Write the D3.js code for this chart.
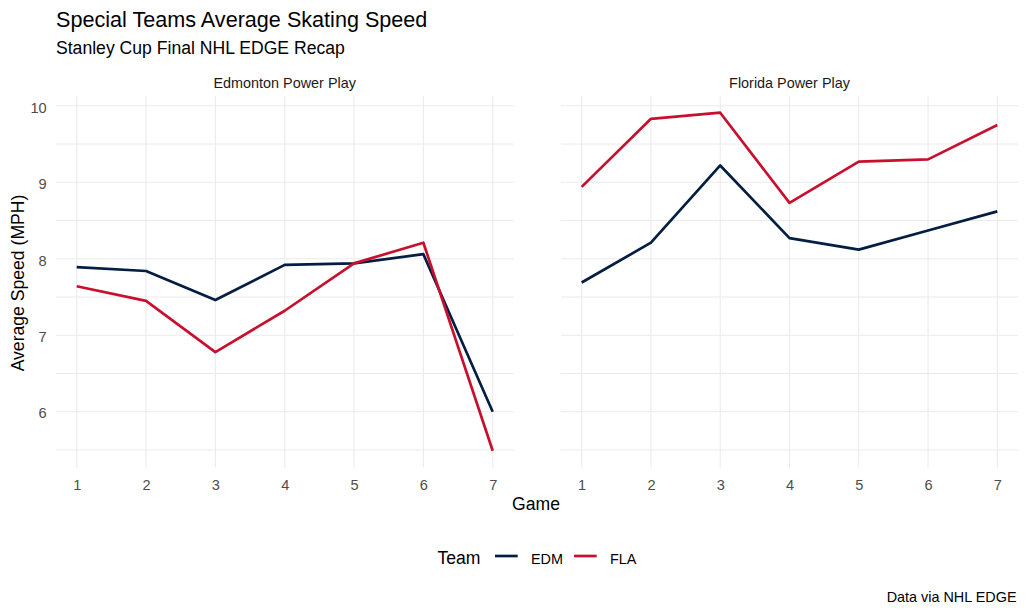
<!DOCTYPE html>
<html><head><meta charset="utf-8">
<script src="https://cdn.jsdelivr.net/npm/d3@7"></script>
<style>body{margin:0;background:#fff}svg{display:block;font-family:"Liberation Sans",Arial,sans-serif}</style>
</head><body><svg id="c" width="1027" height="613"></svg>
<script>
const games = [1,2,3,4,5,6,7];
const panels = ["Edmonton Power Play","Florida Power Play"];
const teams = ["EDM","FLA"];
const teamColors = ["#041E42","#C8102E"];
const edmPP_EDM = [7.89,7.84,7.46,7.92,7.94,8.06,6.00];
const edmPP_FLA = [7.64,7.45,6.78,7.32,7.94,8.21,5.49];
const flaPP_EDM = [7.69,8.21,9.22,8.27,8.12,8.37,8.62];
const flaPP_FLA = [8.94,9.83,9.91,8.73,9.27,9.30,9.75];
const yTicks = [6,7,8,9,10];
const yMinor = [5.5,6.5,7.5,8.5,9.5];
const panelData = [[edmPP_EDM,edmPP_FLA],[flaPP_EDM,flaPP_FLA]];

const svg = d3.select("#c");
const pTop = 95.8, pBottom = 467.6;
const panelX = [[55.9,513.5],[560.9,1018.1]];
const all = panelData.flat(2);
const ymin = d3.min(all), ymax = d3.max(all), yr = ymax - ymin;
const y = d3.scaleLinear().domain([ymin - 0.05*yr, ymax + 0.05*yr]).range([pBottom, pTop]);
const FF = "Liberation Sans, Arial, sans-serif";

svg.append("text").attr("x",56).attr("y",27).attr("font-size",21.6).attr("fill","#000").text("Special Teams Average Skating Speed");
svg.append("text").attr("x",56).attr("y",54).attr("font-size",17.6).attr("fill","#000").text("Stanley Cup Final NHL EDGE Recap");

panelData.forEach((series,pi)=>{
  const [x0,x1] = panelX[pi];
  const x = d3.scaleLinear().domain([1 - 0.3, 7 + 0.3]).range([x0,x1]);
  const g = svg.append("g");
  yMinor.forEach(v=>g.append("line").attr("x1",x0).attr("x2",x1).attr("y1",y(v)).attr("y2",y(v)).attr("stroke","#EBEBEB").attr("stroke-width",1));
  yTicks.forEach(v=>g.append("line").attr("x1",x0).attr("x2",x1).attr("y1",y(v)).attr("y2",y(v)).attr("stroke","#EBEBEB").attr("stroke-width",1.1));
  games.forEach(v=>g.append("line").attr("x1",x(v)).attr("x2",x(v)).attr("y1",pTop).attr("y2",pBottom).attr("stroke","#EBEBEB").attr("stroke-width",1.1));
  const xa = d3.axisBottom(x).tickValues(games).tickSize(0).tickPadding(11.7).tickFormat(d3.format("d"));
  const ax = g.append("g").attr("transform",`translate(0,${pBottom})`).call(xa);
  ax.select(".domain").remove();
  ax.selectAll("text").attr("font-size",14.6).attr("fill","#4D4D4D").attr("font-family",FF);
  if(pi===0){
    const ya = d3.axisLeft(y).tickValues(yTicks).tickSize(0).tickPadding(9.2).tickFormat(d3.format("d"));
    const ay = g.append("g").attr("transform",`translate(${x0},0)`).call(ya);
    ay.select(".domain").remove();
    ay.selectAll("text").attr("font-size",14.6).attr("fill","#4D4D4D").attr("font-family",FF).attr("dy","0.43em");
  }
  g.append("text").attr("x",(x0+x1)/2).attr("y",88).attr("text-anchor","middle").attr("font-size",14.4).attr("fill","#1A1A1A").text(panels[pi]);
  const line = d3.line().x((d,i)=>x(games[i])).y(d=>y(d));
  series.forEach((s,si)=>{
    g.append("path").attr("d",line(s)).attr("fill","none").attr("stroke",teamColors[si]).attr("stroke-width",2.7).attr("stroke-linejoin","round");
  });
});

svg.append("text").attr("transform","translate(24,283) rotate(-90)").attr("text-anchor","middle").attr("font-size",17.6).attr("fill","#000").text("Average Speed (MPH)");
svg.append("text").attr("x",536).attr("y",510).attr("text-anchor","middle").attr("font-size",17.6).attr("fill","#000").text("Game");

const lg = svg.append("g");
lg.append("text").attr("x",437.5).attr("y",564).attr("font-size",17.6).attr("fill","#000").text("Team");
const keyX = [495,574];
teams.forEach((t,i)=>{
  lg.append("line").attr("x1",keyX[i]).attr("x2",keyX[i]+22.7).attr("y1",556).attr("y2",556).attr("stroke",teamColors[i]).attr("stroke-width",2.7);
  lg.append("text").attr("x",keyX[i]+36).attr("y",563.5).attr("font-size",14.4).attr("fill","#000").text(t);
});
svg.append("text").attr("x",1016.5).attr("y",601.7).attr("text-anchor","end").attr("font-size",14.4).attr("fill","#000").text("Data via NHL EDGE");
</script></body></html>
